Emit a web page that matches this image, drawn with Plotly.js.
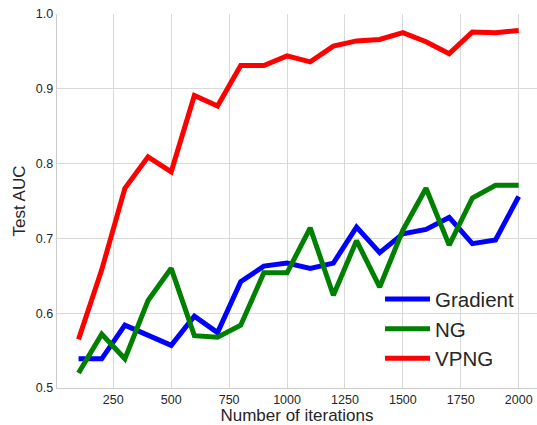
<!DOCTYPE html>
<html>
<head>
<meta charset="utf-8">
<script src="https://cdn.plot.ly/plotly-3.0.1.min.js"></script>
<style>html,body{margin:0;padding:0;background:#fff;}#chart{width:537px;height:425px;}</style>
</head>
<body>
<div id="chart"></div>
<script>
const iterations = [100,200,300,400,500,600,700,800,900,1000,1100,1200,1300,1400,1500,1600,1700,1800,1900,2000];
const gradientAUC = [0.539,0.539,0.584,0.571,0.557,0.596,0.574,0.642,0.663,0.667,0.660,0.667,0.715,0.681,0.706,0.712,0.728,0.693,0.698,0.756];
const ngAUC = [0.520,0.572,0.539,0.617,0.660,0.570,0.568,0.584,0.654,0.654,0.714,0.624,0.697,0.635,0.711,0.767,0.691,0.754,0.771,0.771];
const vpngAUC = [0.565,0.658,0.767,0.809,0.789,0.891,0.877,0.931,0.931,0.944,0.936,0.957,0.964,0.966,0.975,0.963,0.947,0.976,0.975,0.978];
const seriesNames = ["Gradient","NG","VPNG"];
const xTickVals = [250,500,750,1000,1250,1500,1750,2000];
const yTickVals = [0.5,0.6,0.7,0.8,0.9,1.0];

const FONT = '"Liberation Sans", Arial, sans-serif';
const colors = ['#0000ff','#008000','#ff0000'];
const ys = [gradientAUC, ngAUC, vpngAUC];
const traces = ys.map((y,i)=>({
  x: iterations, y: y, type:'scatter', mode:'lines', name: seriesNames[i],
  line:{color:colors[i], width:5}
}));

const layout = {
  width:537, height:425,
  margin:{l:57, r:0, t:14, b:37, pad:0},
  paper_bgcolor:'#fff', plot_bgcolor:'#fff',
  font:{family:FONT, color:'#262626'},
  showlegend:true,
  legend:{x:0.673, y:0.291, xanchor:'left', yanchor:'top', bgcolor:'rgba(0,0,0,0)',
    font:{family:FONT, size:20.5, color:'#262626'}, itemwidth:45},
  xaxis:{range:[7,2079], tickvals:xTickVals, ticktext:xTickVals.map(String),
    showgrid:true, gridcolor:'#d9d9d9', gridwidth:1, zeroline:false,
    showline:true, linecolor:'#cccccc', linewidth:1.25, mirror:false,
    ticks:'', tickfont:{size:12.5, color:'#262626'},
    title:{text:'Number of iterations', font:{size:17, color:'#262626'}, standoff:5}},
  yaxis:{range:[0.5,1.0], tickvals:yTickVals, tickformat:'.1f',
    showgrid:true, gridcolor:'#d9d9d9', gridwidth:1, zeroline:false,
    showline:true, linecolor:'#cccccc', linewidth:1.25,
    ticks:'', tickfont:{size:12.5, color:'#262626'},
    title:{text:'Test AUC', font:{size:17, color:'#262626'}, standoff:6}}
};
Plotly.newPlot('chart', traces, layout, {displayModeBar:false, staticPlot:true});
</script>
</body>
</html>
